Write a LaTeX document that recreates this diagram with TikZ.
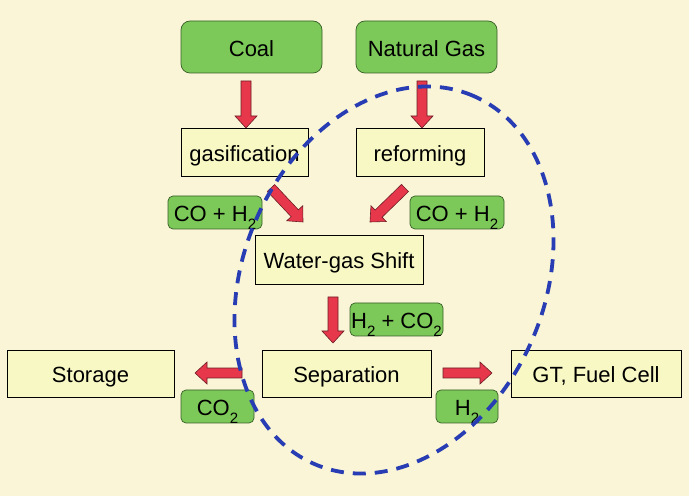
\documentclass[tikz,border=0pt]{standalone}
\usepackage{fontspec}
\setmainfont{Liberation Sans}
\usetikzlibrary{calc}
\definecolor{bg}{RGB}{250,245,214}
\definecolor{boxfill}{RGB}{248,248,196}
\definecolor{gfill}{RGB}{124,200,88}
\definecolor{gedge}{RGB}{55,95,40}
\definecolor{ared}{RGB}{230,55,75}
\definecolor{aedge}{RGB}{110,30,40}
\definecolor{eblue}{RGB}{40,60,180}
\newcommand\lsub[1]{\raisebox{-0.32em}{\fontsize{15}{15}\selectfont #1}}
\tikzset{
  ybox/.style={draw=black, line width=0.7pt, fill=boxfill, inner sep=0pt,
    text height=21pt, text depth=2pt, font=\fontsize{22}{26}\selectfont},
  gbox/.style={draw=gedge, line width=0.7pt, fill=gfill, rounded corners=9pt,
    inner sep=0pt, text height=21pt, text depth=2pt, font=\fontsize{22}{26}\selectfont},
  sbox/.style={gbox, rounded corners=5pt},
  blockarrow/.style={draw=aedge, fill=ared, line width=0.6pt, line join=miter,
    to path={let \p1=(\tikztostart), \p2=(\tikztotarget),
      \n1={atan2(\y2-\y1,\x2-\x1)}, \n2={veclen(\x2-\x1,\y2-\y1)} in
      (\p1) ++(\n1+90:5pt) -- ++(\n1:\n2-12pt) -- ++(\n1+90:6pt) -- (\p2)
      -- ++(\n1+222.5:16.28pt) -- ++(\n1+90:6pt) -- ++(\n1+180:\n2-12pt) -- cycle}},
  ering/.style={draw=eblue, line width=3.8pt, dash pattern=on 13pt off 9pt}
}
\begin{document}
\begin{tikzpicture}[x=1pt,y=1pt]
\useasboundingbox[fill=bg] (0,0) rectangle (689,496);

% nodes
\node[gbox, minimum width=141pt, minimum height=52pt] (coal) at (251.5,449) {Coal};
\node[gbox, minimum width=141pt, minimum height=52pt] (ng) at (426.5,449) {Natural Gas};
\node[ybox, minimum width=127pt, minimum height=48pt] (gasif) at (244.5,344) {gasification};
\node[ybox, minimum width=128pt, minimum height=48pt] (reform) at (420,344) {reforming};
\node[sbox, minimum width=94pt, minimum height=33pt] (coh1) at (215,283.5) {CO + H\lsub{2}};
\node[sbox, minimum width=94pt, minimum height=33pt] (coh2) at (457,283.5) {CO + H\lsub{2}};
\node[ybox, minimum width=168pt, minimum height=49pt] (wgs) at (339,236.5) {Water-gas Shift};
\node[sbox, minimum width=93pt, minimum height=33pt] (hco) at (396.5,176.5) {H\lsub{2} + CO\lsub{2}};
\node[ybox, minimum width=167pt, minimum height=47pt] (stor) at (90.5,122.5) {Storage};
\node[ybox, minimum width=169pt, minimum height=47pt] (sep) at (346.5,122.5) {Separation};
\node[ybox, minimum width=170pt, minimum height=47pt] (gt) at (596,122.5) {GT, Fuel Cell};
\node[sbox, minimum width=73pt, minimum height=33pt] (co2) at (217.5,89.5) {CO\lsub{2}};
\node[sbox, minimum width=62pt, minimum height=33pt] (h2) at (467,89.5) {H\lsub{2}};

% arrow end points
\coordinate (a1s) at (246,415); \coordinate (a1e) at (246,368);
\coordinate (a2s) at (422,415); \coordinate (a2e) at (422,368);
\coordinate (a3s) at (271,308); \coordinate (a3e) at (303,274);
\coordinate (a4s) at (405,308); \coordinate (a4e) at (370,274);
\coordinate (a5s) at (333,199); \coordinate (a5e) at (333,153);
\coordinate (a6s) at (242,123); \coordinate (a6e) at (195,123);
\coordinate (a7s) at (443,123); \coordinate (a7e) at (492,123);

\path[blockarrow] (a1s) to (a1e);
\path[blockarrow] (a2s) to (a2e);
\path[blockarrow] (a3s) to (a3e);
\path[blockarrow] (a4s) to (a4e);
\path[blockarrow] (a5s) to (a5e);
\path[blockarrow] (a6s) to (a6e);
\path[blockarrow] (a7s) to (a7e);

% dashed ellipse
\coordinate (ec) at (394,216);
\draw[ering, rotate around={66.6:(ec)}] (ec) ellipse [x radius=200.5pt, y radius=150.6pt];
\end{tikzpicture}
\end{document}
